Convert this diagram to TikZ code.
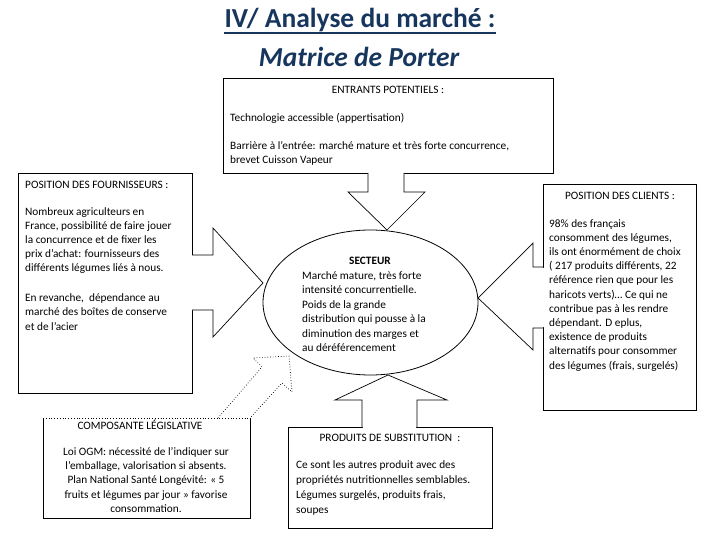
\documentclass[tikz,border=0pt]{standalone}
\usepackage{fontspec}
\setmainfont{Carlito}
\definecolor{titleblue}{RGB}{23,54,93}
\begin{document}
\begin{tikzpicture}[x=1pt,y=-1pt,
  box/.style={draw=black,line width=0.8pt},
  arr/.style={draw=black,line width=0.7pt,fill=white,line join=miter},
  txt/.style={inner sep=0pt,font=\fontsize{11.3}{14.5}\selectfont,align=left},
  ctxt/.style={inner sep=0pt,font=\fontsize{11.3}{14.5}\selectfont,align=center}]
\useasboundingbox (0,0) rectangle (720,540);
\fill[white] (0,0) rectangle (720,540);

% title
\node[inner sep=0pt,font=\fontsize{27.5}{30}\bfseries\selectfont,text=titleblue] (t1) at (360,20) {IV/ Analyse du marché :};
\draw[titleblue,line width=1.7pt] ([yshift=-1pt]t1.south west) -- ([yshift=-1pt]t1.south east);
\node[inner sep=0pt,font=\fontsize{27.5}{30}\bfseries\itshape\selectfont,text=titleblue] (t2) at (359,57) {Matrice de Porter};

% boxes
\draw[box] (223,78) rectangle (553,173);
\draw[box] (18,173) rectangle (192,393);
\draw[box] (543,184) rectangle (696,410);
\draw[box] (288,427) rectangle (492,528);
\draw[box] (43,518) -- (43,418) (250,418) -- (250,518) -- (43,518);

% central ellipse
\draw[box] (370.5,302.5) ellipse [x radius=107.5, y radius=72.5];

% block arrows
\fill[white] (369,172) rectangle (403,175);
\draw[arr] (368,173) -- (368,192) -- (348,192) -- (387,230) -- (425,192) -- (404,192) -- (404,173);
\fill[white] (191,256) rectangle (194,309);
\draw[arr] (192,255) -- (213,255) -- (213,228) -- (263,283) -- (213,337) -- (213,310) -- (192,310);
\fill[white] (541,268) rectangle (545,327);
\draw[arr] (543,267) -- (533,267) -- (533,243) -- (478,298) -- (533,350) -- (533,328) -- (543,328);
\fill[white] (363,425) rectangle (416,429);
\draw[arr] (362,427) -- (362,400) -- (335,400) -- (388,375) -- (447,400) -- (417,400) -- (417,427);
\fill[white] (220,418) -- (262,369) -- (282,385) -- (248,418) -- cycle;
\draw[line width=0.7pt,dotted] (218,418) -- (262,367) -- (253,358) -- (289,356) -- (292,392) -- (282,383) -- (250,418);
\draw[line width=0.8pt,dotted] (43,418) -- (250,418);

% top box text
\node[ctxt] (entH) at (388,90) {ENTRANTS POTENTIELS :};
\node[txt,anchor=west] (ent1) at (230,118) {Technologie accessible (appertisation)};
\node[txt,anchor=north west] (ent2) at (230,141) {Barrière à l’entrée: marché mature et très forte concurrence,\\brevet Cuisson Vapeur};

% suppliers
\node[txt,anchor=west] (fouH) at (25,185) {POSITION DES FOURNISSEURS :};
\node[txt,anchor=north west,font=\fontsize{11.3}{14}\selectfont] (fou1) at (25,207) {Nombreux agriculteurs en\\France, possibilité de faire jouer\\la concurrence et de fixer les\\prix d’achat: fournisseurs des\\différents légumes liés à nous.};
\node[txt,anchor=north west] (fou2) at (25,293) {En revanche,\ \ dépendance au\\marché des boîtes de conserve\\et de l’acier};

% clients
\node[ctxt] (cliH) at (620,196) {POSITION DES CLIENTS :};
\node[txt,anchor=north west,font=\fontsize{11.3}{14.2}\selectfont] (cli1) at (549,219) {98\% des français\\consomment des légumes,\\ils ont énormément de choix\\( 217 produits différents, 22\\référence rien que pour les\\haricots verts)… Ce qui ne\\contribue pas à les rendre\\dépendant. D eplus,\\existence de produits\\alternatifs pour consommer\\des légumes (frais, surgelés)};

% sector
\node[ctxt,font=\fontsize{11.3}{14.5}\bfseries\selectfont] (secH) at (370,261) {SECTEUR};
\node[txt,anchor=north west] (sec1) at (302,271) {Marché mature, très forte\\intensité concurrentielle.\\Poids de la grande\\distribution qui pousse à la\\diminution des marges et\\au déréférencement};

% substitution
\node[ctxt] (subH) at (390,438) {PRODUITS DE SUBSTITUTION\ \ :};
\node[txt,anchor=north west,font=\fontsize{11.3}{15}\selectfont] (sub1) at (296,460) {Ce sont les autres produit avec des\\propriétés nutritionnelles semblables.\\Légumes surgelés, produits frais,\\soupes};

% legislative
\node[ctxt] (legH) at (140,425) {COMPOSANTE LÉGISLATIVE};
\node[ctxt,anchor=north,font=\fontsize{11.3}{14.3}\selectfont] (leg1) at (146,447) {Loi OGM: nécessité de l’indiquer sur\\l’emballage, valorisation si absents.\\Plan National Santé Longévité: « 5\\fruits et légumes par jour » favorise\\consommation.};
\end{tikzpicture}
\end{document}
